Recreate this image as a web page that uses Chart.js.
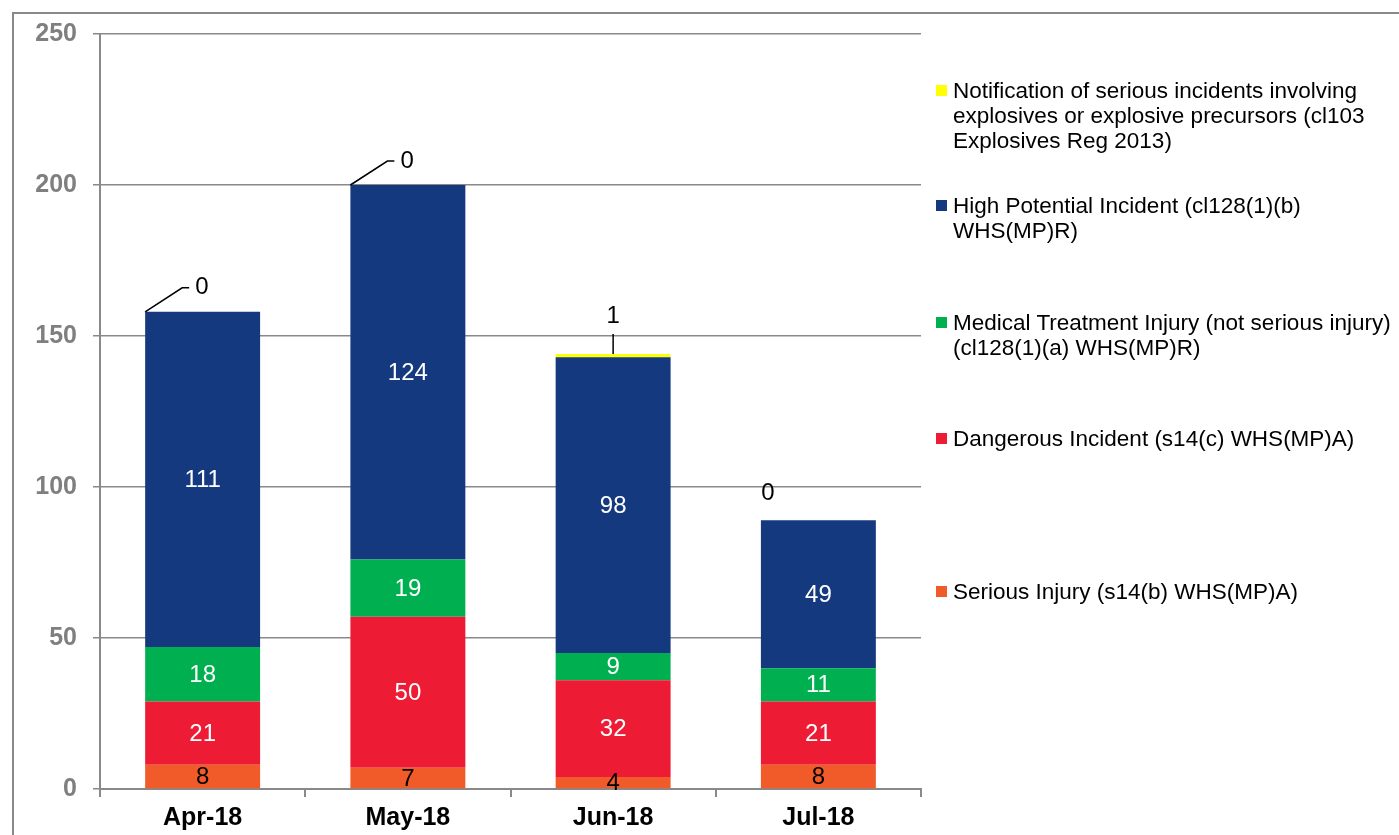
<!DOCTYPE html>
<html>
<head>
<meta charset="utf-8">
<script src="https://cdn.jsdelivr.net/npm/chart.js@4.4.0/dist/chart.umd.min.js"></script>
<style>
html, body { margin: 0; padding: 0; background: #fff; overflow: hidden; }
#wrap { position: relative; width: 1399px; height: 835px; }
#frame { position: absolute; left: 12px; top: 12px; width: 1500px; height: 900px;
         border-left: 2px solid #898989; border-top: 2px solid #898989; }
#chart { position: absolute; left: 0; top: 0; }
#legend { position: absolute; left: 0; top: 0; font-family: "Liberation Sans", Arial, sans-serif;
          font-size: 22.5px; line-height: 25px; color: #000; }
.item { position: absolute; left: 936px; width: 462px; }
.box { position: absolute; left: 0; top: 7px; width: 11px; height: 11px; }
.txt { position: absolute; left: 17px; width: 447px; }
</style>
</head>
<body>
<div id="wrap">
  <div id="frame"></div>
  <canvas id="chart" width="1399" height="835"></canvas>
  <div id="legend"></div>
</div>
<script>
/* ===== data ===== */
const categories = ['Apr-18', 'May-18', 'Jun-18', 'Jul-18'];
const seriousInjury = [8, 7, 4, 8];
const dangerousIncident = [21, 50, 32, 21];
const medicalTreatment = [18, 19, 9, 11];
const highPotential = [111, 124, 98, 49];
const explosivesNotice = [0, 0, 1, 0];
const seriesNames = [
    'Serious Injury (s14(b) WHS(MP)A)',
    'Dangerous Incident (s14(c) WHS(MP)A)',
    'Medical Treatment Injury (not serious injury) (cl128(1)(a) WHS(MP)R)',
    'High Potential Incident (cl128(1)(b) WHS(MP)R)',
    'Notification of serious incidents involving explosives or explosive precursors (cl103 Explosives Reg 2013)'
];
const yMin = 0, yMax = 250, yStep = 50;

/* ===== styles ===== */
const FONT = '"Liberation Sans", Arial, sans-serif';
const seriesColors = ['#F15A29', '#ED1B34', '#00B050', '#15397F', '#FFFF00'];
const labelColors = ['#000', '#fff', '#fff', '#fff', '#000'];
const noticeLeader = ['diag', 'diag', 'up', 'none'];
const legendTops = [78, 193, 310, 426, 579];

var seriesValues = [seriousInjury, dangerousIncident, medicalTreatment, highPotential, explosivesNotice];

// draws the numbers on each segment, plus the leader-line labels on top
var segmentLabels = {
    id: 'segmentLabels',
    afterDatasetsDraw: function(chart) {
        var ctx = chart.ctx;
        ctx.save();
        ctx.font = '24px ' + FONT;
        ctx.textAlign = 'center';
        ctx.textBaseline = 'middle';
        for (var d = 0; d < 4; d++) {
            var meta = chart.getDatasetMeta(d);
            meta.data.forEach(function(bar, i) {
                var v = seriesValues[d][i];
                if (!v) return;
                ctx.fillStyle = labelColors[d];
                ctx.fillText(String(v), bar.x, (bar.y + bar.base) / 2 + 1);
            });
        }
        // top series with leader lines
        var top = chart.getDatasetMeta(4);
        ctx.strokeStyle = '#000';
        ctx.lineWidth = 1.5;
        ctx.fillStyle = '#000';
        top.data.forEach(function(bar, i) {
            var v = String(explosivesNotice[i]);
            var left = bar.x - bar.width / 2;
            var y = bar.y;
            if (noticeLeader[i] === 'diag') {
                ctx.beginPath();
                ctx.moveTo(left, y);
                ctx.lineTo(left + 37, y - 24);
                ctx.lineTo(left + 44, y - 24);
                ctx.stroke();
                ctx.textAlign = 'left';
                ctx.fillText(v, left + 50, y - 24);
            } else if (noticeLeader[i] === 'up') {
                ctx.beginPath();
                ctx.moveTo(bar.x, y);
                ctx.lineTo(bar.x, y - 20);
                ctx.stroke();
                ctx.textAlign = 'center';
                ctx.fillText(v, bar.x, y - 38);
            } else {
                ctx.textAlign = 'center';
                ctx.fillText(v, left + 7, y - 27);
            }
        });
        ctx.restore();
    }
};

var datasets = seriesValues.map(function(vals, i) {
    return {
        label: seriesNames[i],
        data: vals,
        backgroundColor: seriesColors[i],
        borderWidth: 0,
        barPercentage: 0.56,
        categoryPercentage: 1.0
    };
});

var chart = new Chart(document.getElementById('chart'), {
    type: 'bar',
    data: { labels: categories, datasets: datasets },
    plugins: [segmentLabels],
    options: {
        responsive: false,
        animation: false,
        layout: { padding: { left: 0, right: 478, top: 34, bottom: 0 } },
        plugins: { legend: { display: false }, tooltip: { enabled: false } },
        scales: {
            x: {
                stacked: true,
                offset: true,
                grid: { display: true, offset: true, drawOnChartArea: false, tickLength: 8,
                        color: '#898989', lineWidth: 2 },
                border: { color: '#898989', width: 2 },
                ticks: { color: '#000', padding: 6, font: { family: FONT, size: 25, weight: 'bold' } },
                afterFit: function(s) { s.height = 46; }
            },
            y: {
                stacked: true,
                min: yMin,
                max: yMax,
                ticks: { stepSize: yStep, color: '#7F7F7F', padding: 16,
                         font: { family: FONT, size: 25, weight: 'bold' } },
                grid: { color: '#898989', lineWidth: 1.5, tickLength: 7 },
                border: { color: '#898989', width: 2 },
                afterFit: function(s) { s.width = 100; }
            }
        }
    }
});

// legend on the right, top series first
var legend = document.getElementById('legend');
for (var k = 4; k >= 0; k--) {
    var item = document.createElement('div');
    item.className = 'item';
    item.style.top = legendTops[4 - k] + 'px';
    var box = document.createElement('div');
    box.className = 'box';
    box.style.background = seriesColors[k];
    var txt = document.createElement('div');
    txt.className = 'txt';
    txt.textContent = seriesNames[k];
    item.appendChild(box);
    item.appendChild(txt);
    legend.appendChild(item);
}
</script>
</body>
</html>
